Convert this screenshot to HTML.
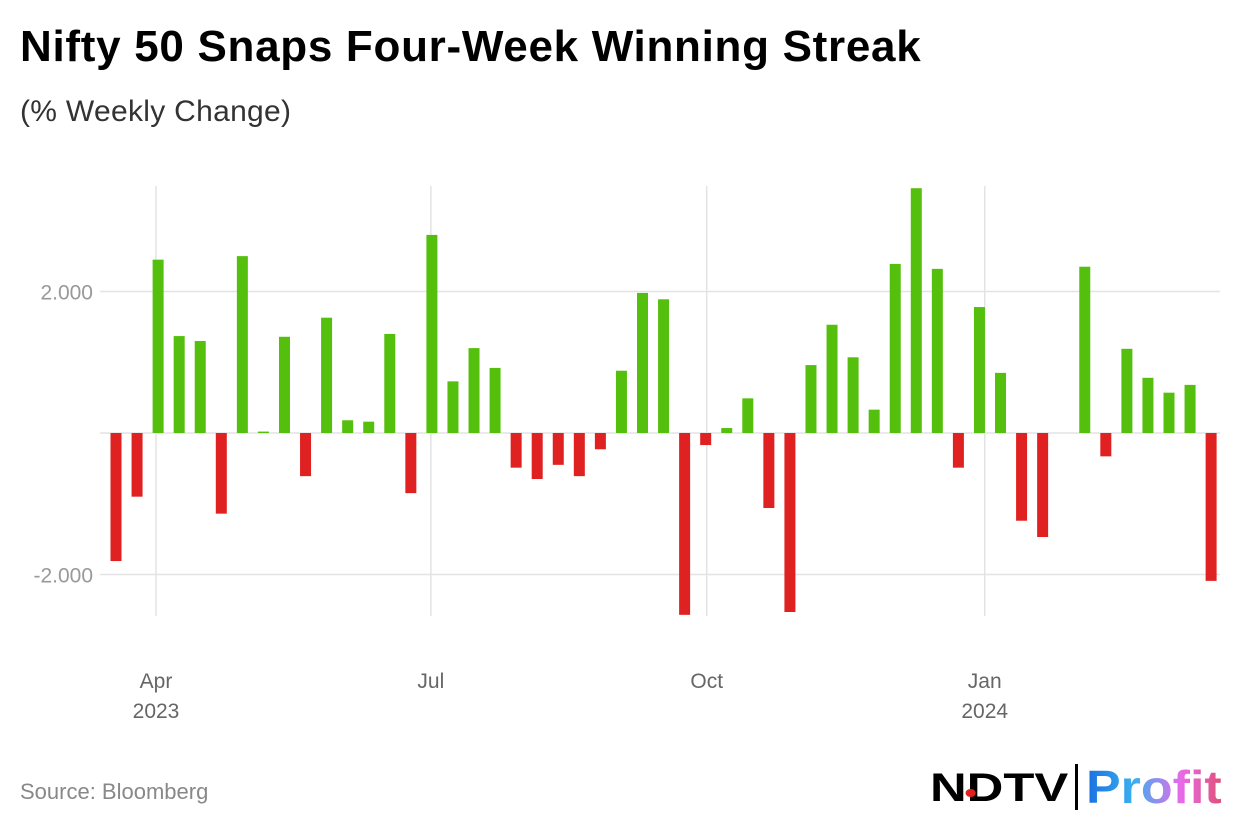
<!DOCTYPE html>
<html><head><meta charset="utf-8"><style>
body{margin:0;width:1240px;height:840px;background:#fff;font-family:"Liberation Sans",sans-serif;position:relative;overflow:hidden}
#title{position:absolute;left:20px;top:22px;font-size:44px;font-weight:bold;color:#000;letter-spacing:0.7px}
#sub{position:absolute;left:20px;top:95px;font-size:30px;color:#333;letter-spacing:0.3px}
#src{position:absolute;left:20px;top:779px;font-size:22px;color:#888}
#logo{position:absolute;left:928px;top:764px;height:50px;width:300px}
</style></head><body>
<div id="title">Nifty 50 Snaps Four-Week Winning Streak</div>
<div id="sub">(% Weekly Change)</div>
<svg id="chart" width="1240" height="840" style="position:absolute;left:0;top:0"></svg>
<div id="src">Source: Bloomberg</div>
<div id="logo">
<span style="position:absolute;left:2px;top:2px;font-size:40px;font-weight:900;color:#000;display:inline-block;transform:scaleX(1.27);transform-origin:left">NDTV<span style="position:absolute;left:28px;top:23px;width:8px;height:8px;border-radius:50%;background:#e0201f"></span></span>
<span style="position:absolute;left:147px;top:0;width:3px;height:46px;background:#000"></span>
<span style="position:absolute;left:158px;top:-4px;font-size:46px;font-weight:bold;display:inline-block;transform:scaleX(1.13);transform-origin:left;background:linear-gradient(90deg,#1a6fe0,#39b0f0 35%,#e96ae8 70%,#e0507a);-webkit-background-clip:text;background-clip:text;color:transparent">Profit</span>
</div>
<script>
const values=[-1.81,-0.90,2.45,1.37,1.30,-1.14,2.50,0.02,1.36,-0.61,1.63,0.18,0.16,1.40,-0.85,2.80,0.73,1.20,0.92,-0.49,-0.65,-0.45,-0.61,-0.23,0.88,1.98,1.89,-2.57,-0.17,0.07,0.49,-1.06,-2.53,0.96,1.53,1.07,0.33,2.39,3.46,2.32,-0.49,1.78,0.85,-1.24,-1.47,0,2.35,-0.33,1.19,0.78,0.57,0.68,-2.09];
const yTicks=[2,-2];
const yTickLabels=["2.000","-2.000"];
const xTickWeeks=[1.9,14.95,28.05,41.25];
const xTickMonths=["Apr","Jul","Oct","Jan"];
const xTickYears=["2023","","","2024"];
const svg=document.getElementById('chart');
const NS='http://www.w3.org/2000/svg';
const y=v=>433-v*70.75;
const x=i=>116+i*21.06;
function mk(t,a){const e=document.createElementNS(NS,t);for(const k in a)e.setAttribute(k,a[k]);svg.appendChild(e);return e;}
yTicks.forEach((t,i)=>{
 const g=mk('line',{x1:100,x2:1220,y1:y(t),y2:y(t),stroke:'#e3e3e3','stroke-width':1.5});
 
 
 const l=mk('text',{x:93,y:y(t)+8,'text-anchor':'end','font-size':21,fill:'#999','font-family':'Liberation Sans'});
 l.textContent=yTickLabels[i];
 
 
});
xTickWeeks.forEach((w,i)=>{
 const g=mk('line',{x1:x(w),x2:x(w),y1:186,y2:616,stroke:'#e3e3e3','stroke-width':1.5});
 
 
 const l=mk('text',{x:x(w),y:688,'text-anchor':'middle','font-size':21,fill:'#666','font-family':'Liberation Sans'});
 l.textContent=xTickMonths[i];
 
 
 if(xTickYears[i]){const yl=mk('text',{x:x(w),y:718,'text-anchor':'middle','font-size':21,fill:'#666','font-family':'Liberation Sans'});
 yl.textContent=xTickYears[i];
 
 }
});
const z=mk('line',{x1:100,x2:1220,y1:y(0),y2:y(0),stroke:'#e3e3e3','stroke-width':1.5});


values.forEach((v,i)=>{
 const r=mk('rect',{x:x(i)-5.5,width:11,y:Math.min(y(v),y(0)),height:Math.abs(y(v)-y(0)),fill:v>=0?'#55bf0d':'#df2121'});
 
 
});
</script>
</body></html>
